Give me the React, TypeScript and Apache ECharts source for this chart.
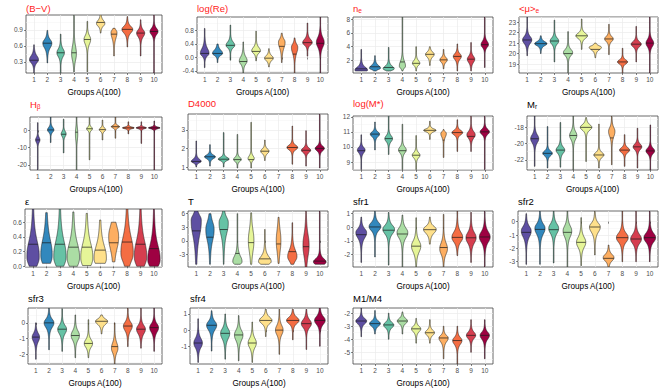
import React, { useEffect, useRef } from "react";
import * as echarts from "echarts";

// ---------------- data ----------------
const groups = [1, 2, 3, 4, 5, 6, 7, 8, 9, 10];
const groupColors = ["#5E4FA2", "#3288BD", "#66C2A5", "#ABDDA4", "#E6F598", "#FEE08B", "#FDAE61", "#F46D43", "#D53E4F", "#9E0142"];

// each violin: [lo, hi, median, densityPeak, spreadBelow, spreadAbove, halfWidth]
const bvViolins = [
  [0.08, 0.62, 0.33, 0.34, 0.12, 0.15, 0.3],
  [0.28, 0.89, 0.65, 0.65, 0.18, 0.14, 0.3],
  [0.08, 0.82, 0.47, 0.47, 0.15, 0.15, 0.25],
  [0.11, 1.2, 0.47, 0.45, 0.25, 0.3, 0.16],
  [0.11, 1.06, 0.72, 0.72, 0.18, 0.15, 0.22],
  [0.84, 1.2, 1.04, 1.02, 0.1, 0.12, 0.28],
  [0.41, 0.93, 0.82, 0.85, 0.22, 0.1, 0.2],
  [0.58, 1.15, 0.91, 0.91, 0.14, 0.12, 0.36],
  [0.41, 1.09, 0.84, 0.84, 0.14, 0.12, 0.27],
  [0.09, 1.2, 0.87, 0.87, 0.12, 0.12, 0.27],
];
const logReViolins = [
  [-0.3, 0.86, 0.12, 0.12, 0.15, 0.3, 0.3],
  [-0.15, 0.4, 0.12, 0.12, 0.12, 0.2, 0.35],
  [-0.08, 0.96, 0.36, 0.36, 0.15, 0.2, 0.3],
  [-0.46, 0.46, -0.12, -0.1, 0.2, 0.25, 0.27],
  [-0.1, 0.78, 0.18, 0.2, 0.15, 0.2, 0.3],
  [-0.28, 0.26, -0.02, -0.02, 0.15, 0.15, 0.3],
  [-0.15, 0.72, 0.33, 0.45, 0.35, 0.2, 0.23],
  [-0.46, 0.58, 0.1, 0.3, 0.35, 0.2, 0.22],
  [0.04, 1.02, 0.44, 0.44, 0.15, 0.2, 0.33],
  [-0.46, 1.2, 0.42, 0.45, 0.3, 0.3, 0.27],
];
const nEViolins = [
  [0.5, 3.6, 0.8, 0.6, 0.4, 0.9, 0.44],
  [0.5, 2.7, 1.1, 0.9, 0.4, 0.8, 0.36],
  [0.5, 3.9, 1.0, 0.8, 0.4, 0.8, 0.36],
  [0.5, 8.3, 1.8, 1.2, 0.6, 1.4, 0.2],
  [0.5, 4.0, 1.6, 1.6, 0.6, 0.8, 0.24],
  [1.3, 4.0, 2.9, 2.9, 0.8, 0.7, 0.28],
  [0.8, 3.6, 2.1, 2.1, 0.7, 0.7, 0.24],
  [0.5, 4.4, 2.6, 2.6, 0.9, 0.8, 0.26],
  [0.5, 4.6, 2.2, 2.2, 1.0, 0.9, 0.24],
  [1.0, 8.3, 4.3, 4.3, 0.8, 1.0, 0.24],
];
const muEViolins = [
  [19.8, 23.5, 21.3, 21.3, 0.7, 0.7, 0.3],
  [20.0, 21.7, 20.95, 20.95, 0.4, 0.4, 0.4],
  [19.2, 23.2, 21.2, 21.2, 0.6, 0.6, 0.28],
  [18.1, 22.1, 20.0, 20.1, 0.6, 0.6, 0.3],
  [20.4, 23.3, 21.7, 21.7, 0.5, 0.5, 0.38],
  [19.6, 21.0, 20.4, 20.6, 0.5, 0.3, 0.4],
  [19.9, 22.8, 21.4, 21.4, 0.5, 0.5, 0.28],
  [18.1, 20.5, 19.2, 19.2, 0.4, 0.4, 0.33],
  [19.2, 22.6, 20.9, 20.9, 0.5, 0.5, 0.33],
  [18.1, 23.5, 21.0, 21.0, 0.7, 0.7, 0.25],
];
const hBetaViolins = [
  [-23, 4.5, -5.5, -5.5, 3, 3, 0.15],
  [-7, 7.8, 0.3, 0.3, 2.5, 3, 0.22],
  [-13, 6.5, -2.2, -2.0, 3, 3, 0.17],
  [-23, 7.8, -1, -2, 8, 8, 0.08],
  [-17, 7.5, 1.0, 1.0, 2, 2, 0.2],
  [-5.5, 6.0, 0.5, 0.5, 2, 2, 0.22],
  [-4.5, 7.8, 2.2, 2.2, 1.5, 1.5, 0.28],
  [-2, 5, 1.5, 1.5, 1.0, 1.0, 0.4],
  [-7.5, 5, 1.5, 1.5, 1.0, 1.0, 0.35],
  [-23, 5.5, 1.5, 1.5, 1.0, 1.0, 0.4],
];
const d4000Violins = [
  [1.0, 2.4, 1.3, 1.3, 0.15, 0.25, 0.32],
  [1.05, 2.2, 1.55, 1.55, 0.2, 0.2, 0.35],
  [1.0, 2.85, 1.42, 1.42, 0.15, 0.2, 0.35],
  [0.95, 2.75, 1.4, 1.4, 0.2, 0.25, 0.25],
  [0.95, 3.4, 1.4, 1.45, 0.2, 0.3, 0.2],
  [1.35, 2.45, 1.85, 1.85, 0.25, 0.25, 0.27],
  null,
  [1.15, 3.2, 2.05, 2.05, 0.25, 0.25, 0.35],
  [1.05, 2.95, 1.9, 1.9, 0.25, 0.25, 0.3],
  [0.95, 3.9, 2.0, 2.0, 0.25, 0.25, 0.3],
];
const logMViolins = [
  [8.5, 10.8, 9.75, 9.8, 0.4, 0.35, 0.25],
  [9.8, 11.65, 10.85, 10.85, 0.35, 0.3, 0.3],
  [9.5, 12.1, 10.55, 10.55, 0.4, 0.4, 0.25],
  [8.5, 11.5, 9.75, 9.8, 0.4, 0.4, 0.25],
  [8.5, 10.75, 9.45, 9.45, 0.35, 0.35, 0.25],
  [10.5, 11.7, 11.1, 11.1, 0.2, 0.2, 0.4],
  [9.3, 11.15, 10.45, 10.9, 0.5, 0.2, 0.18],
  [9.7, 11.8, 10.95, 10.95, 0.3, 0.3, 0.35],
  [9.7, 12.1, 10.7, 10.8, 0.45, 0.45, 0.27],
  [8.5, 12.1, 11.0, 11.0, 0.35, 0.35, 0.3],
];
const mRViolins = [
  [-22.8, -16.6, -19.4, -19.4, 1.0, 1.0, 0.28],
  [-23.0, -17.9, -21.2, -21.2, 0.6, 0.6, 0.33],
  [-22.9, -17.4, -20.8, -20.8, 0.8, 0.8, 0.3],
  [-23.3, -16.6, -19.0, -19.0, 1.0, 1.0, 0.25],
  [-22.2, -16.8, -18.0, -18.0, 0.7, 0.7, 0.4],
  [-23.0, -17.6, -21.4, -21.4, 0.6, 0.6, 0.35],
  [-22.6, -16.6, -19.3, -18.5, 1.3, 1.0, 0.22],
  [-22.8, -18.9, -20.8, -20.8, 0.6, 0.6, 0.35],
  [-23.0, -18.1, -20.4, -20.4, 0.7, 0.7, 0.3],
  [-23.3, -17.7, -20.9, -20.9, 0.7, 0.7, 0.3],
];
const epsViolins = [
  [0.0, 0.78, 0.3, 0.13, 0.25, 0.45, 0.42],
  [0.04, 0.73, 0.32, 0.15, 0.25, 0.45, 0.38],
  [0.0, 0.78, 0.3, 0.13, 0.25, 0.45, 0.42],
  [0.0, 0.74, 0.26, 0.12, 0.25, 0.4, 0.42],
  [0.01, 0.72, 0.26, 0.12, 0.25, 0.4, 0.4],
  [0.04, 0.63, 0.22, 0.11, 0.2, 0.35, 0.42],
  [0.06, 0.6, 0.32, 0.4, 0.35, 0.3, 0.33],
  [0.0, 0.78, 0.33, 0.18, 0.25, 0.45, 0.42],
  [0.0, 0.78, 0.3, 0.13, 0.25, 0.45, 0.42],
  [0.0, 0.78, 0.24, 0.09, 0.2, 0.4, 0.45],
];
const tTypeViolins = [
  [-5.2, 6.6, 2.2, 4.5, 7, 2.5, 0.33],
  [-5.2, 6.0, 0.8, 2.5, 5, 3.5, 0.27],
  [-5.2, 6.6, 2.5, 4.0, 5, 2.5, 0.3],
  [-5.2, 6.0, -2.8, -4.6, 1.2, 2.5, 0.3],
  [-5.2, 6.2, -0.4, 0.0, 5, 5, 0.18],
  [-5.2, 2.5, -4.0, -4.6, 1.2, 2.2, 0.42],
  [-5.0, 5.2, -0.7, 0.0, 5, 5, 0.15],
  [-5.2, 4.0, -2.4, -3.5, 2, 3, 0.3],
  [-5.8, 6.6, -1.3, -1.0, 5, 5, 0.2],
  [-5.2, 6.6, -4.5, -4.7, 1.2, 1.5, 0.45],
];
const sfr1Violins = [
  [-2.6, 0.75, -0.55, -0.4, 0.8, 0.6, 0.35],
  [-2.2, 1.2, 0.02, 0.05, 0.6, 0.6, 0.38],
  [-2.8, 1.1, -0.22, -0.15, 0.7, 0.6, 0.38],
  [-2.94, 0.9, -0.5, -0.4, 0.8, 0.7, 0.35],
  [-2.94, 0.7, -1.4, -1.4, 0.9, 0.8, 0.3],
  [-1.25, 0.75, -0.18, -0.15, 0.6, 0.45, 0.45],
  [-2.94, 0.95, -1.5, -1.6, 0.8, 0.9, 0.25],
  [-2.1, 1.2, -0.75, -0.75, 0.7, 0.8, 0.35],
  [-2.6, 1.1, -0.78, -0.78, 0.8, 0.8, 0.33],
  [-2.94, 1.2, -0.72, -0.72, 0.8, 0.8, 0.35],
];
const sfr2Violins = [
  [-3.2, 0.6, -0.8, -0.7, 0.9, 0.7, 0.32],
  [-3.2, 0.8, -0.58, -0.5, 0.9, 0.7, 0.33],
  [-3.1, 0.8, -0.6, -0.5, 0.8, 0.7, 0.32],
  [-3.4, 0.8, -0.8, -0.7, 0.9, 0.8, 0.28],
  [-3.3, 0.3, -1.55, -1.55, 0.8, 0.8, 0.3],
  [-2.5, 0.8, -0.4, -0.4, 0.8, 0.6, 0.35],
  [-3.4, -1.75, -2.75, -2.7, 0.5, 0.5, 0.35],
  [-3.0, 0.8, -1.2, -1.2, 0.7, 0.7, 0.38],
  [-3.0, 0.8, -1.3, -1.3, 0.7, 0.7, 0.35],
  [-3.0, 0.8, -1.2, -1.2, 0.7, 0.7, 0.38],
];
const sfr3Violins = [
  [-2.3, 0.0, -0.9, -0.9, 0.6, 0.5, 0.25],
  [-1.7, 0.94, 0.0, 0.0, 0.6, 0.5, 0.33],
  [-1.8, 0.9, -0.4, -0.4, 0.6, 0.5, 0.3],
  [-2.2, 0.5, -0.8, -0.8, 0.6, 0.6, 0.28],
  [-2.2, 0.2, -1.3, -1.3, 0.5, 0.5, 0.28],
  [-0.7, 0.5, 0.1, 0.1, 0.4, 0.3, 0.45],
  [-2.6, 0.0, -1.5, -1.6, 0.6, 0.7, 0.22],
  [-1.5, 0.94, -0.2, -0.2, 0.6, 0.5, 0.3],
  [-1.6, 0.94, -0.4, -0.4, 0.6, 0.5, 0.3],
  [-1.8, 0.94, -0.3, -0.3, 0.6, 0.5, 0.3],
];
const sfr4Violins = [
  [-2.0, 0.7, -0.8, -0.8, 0.6, 0.6, 0.28],
  [-1.3, 1.2, 0.3, 0.3, 0.6, 0.5, 0.33],
  [-1.8, 1.0, -0.2, -0.2, 0.7, 0.6, 0.3],
  [-1.9, 0.9, -0.3, -0.3, 0.7, 0.6, 0.28],
  [-2.0, 0.5, -0.8, -0.8, 0.6, 0.6, 0.27],
  [-0.4, 1.3, 0.6, 0.6, 0.4, 0.4, 0.42],
  [-1.5, 1.3, 0.0, 0.0, 0.6, 0.6, 0.25],
  [-0.6, 1.3, 0.6, 0.6, 0.4, 0.4, 0.42],
  [-1.2, 1.3, 0.4, 0.4, 0.5, 0.5, 0.33],
  [-1.0, 1.37, 0.6, 0.6, 0.5, 0.5, 0.35],
];
const m1m4Violins = [
  [-3.8, -1.6, -2.6, -2.6, 0.45, 0.4, 0.35],
  [-3.6, -1.8, -2.8, -2.8, 0.4, 0.4, 0.35],
  [-4.0, -2.0, -2.9, -2.9, 0.45, 0.4, 0.33],
  [-3.6, -1.9, -2.6, -2.6, 0.4, 0.4, 0.33],
  [-4.3, -2.4, -3.2, -3.2, 0.45, 0.4, 0.3],
  [-4.3, -2.5, -3.5, -3.5, 0.4, 0.4, 0.3],
  [-5.5, -3.0, -3.9, -3.9, 0.6, 0.4, 0.3],
  [-5.9, -3.0, -4.1, -4.1, 0.6, 0.5, 0.3],
  [-5.0, -2.5, -3.7, -3.7, 0.5, 0.5, 0.3],
  [-5.5, -2.5, -3.7, -3.7, 0.6, 0.5, 0.3],
];

const panelViolins = [
  bvViolins, logReViolins, nEViolins, muEViolins,
  hBetaViolins, d4000Violins, logMViolins, mRViolins,
  epsViolins, tTypeViolins, sfr1Violins, sfr2Violins,
  sfr3Violins, sfr4Violins, m1m4Violins,
];

const panelTitles = [
  "(B−V)", "log(Re)", "{m|n}{s|e}", "{m|<μ>}{s|e}",
  "{m|H}{s|β}", "D4000", "log(M*)", "{m|M}{s|r}",
  "ε", "T", "sfr1", "sfr2",
  "sfr3", "sfr4", "M1/M4",
];
const titleIsRed = [true, true, true, true, true, true, true, false, false, false, false, false, false, false, false];

const yTickValues = [
  [0.3, 0.6, 0.9], [-0.4, 0, 0.4, 0.8], [2, 4, 6, 8], [19, 20, 21, 22, 23],
  [-20, -10, 0], [1, 2, 3], [9, 10, 11, 12], [-22, -20, -18],
  [0, 0.2, 0.4, 0.6], [-3, 0, 3, 6], [-2, -1, 0, 1], [-3, -2, -1, 0],
  [-2, -1, 0], [-1, 0, 1], [-5, -4, -3, -2],
];
const yTickLabels = [
  ["0.3", "0.6", "0.9"], ["-0.4", "0.0", "0.4", "0.8"], ["2", "4", "6", "8"], ["19", "20", "21", "22", "23"],
  ["-20", "-10", "0"], ["1", "2", "3"], ["9", "10", "11", "12"], ["-22", "-20", "-18"],
  ["0.0", "0.2", "0.4", "0.6"], ["-3", "0", "3", "6"], ["-2", "-1", "0", "1"], ["-3", "-2", "-1", "0"],
  ["-2", "-1", "0"], ["-1", "0", "1"], ["-5", "-4", "-3", "-2"],
];
const yRanges = [
  [0.09, 1.18], [-0.46, 1.2], [0.2, 8.3], [18.14, 23.5],
  [-22.9, 7.8], [0.84, 3.85], [8.47, 12.05], [-23.25, -16.6],
  [-0.01, 0.78], [-5.8, 6.6], [-2.94, 1.2], [-3.4, 0.8],
  [-2.6, 0.94], [-2.1, 1.37], [-5.9, -1.6],
];
const xAxisTitle = "Groups A(100)";

// ---------------- layout (px) ----------------
const plotBoxes = [
  [26, 15, 162, 73], [197, 17, 328, 73], [353, 17, 493, 73], [519, 17, 658, 73],
  [30, 117, 162, 170], [188, 114, 328, 170], [353, 116, 493, 170], [527, 116, 658, 170],
  [25, 209, 162, 267], [188, 211, 328, 267], [353, 211, 493, 267], [518, 211, 658, 267],
  [28, 308, 162, 365], [190, 308, 328, 365], [353, 308, 493, 365],
];
const titleCenterY = [8, 8, 8, 8, 104, 103, 103, 104, 201, 201, 201, 201, 298, 298, 298];

const FONT = "Liberation Sans, Arial, Helvetica, sans-serif";
const WIDTH_SCALE = 1.12;

function shapeFactor(y: number, peak: number, sD: number, sU: number) {
  const d = y - peak;
  const s = d < 0 ? sD : sU;
  const u = Math.abs(d) / s;
  return 1 / (1 + Math.pow(1.6 * u, 2.5));
}

function renderViolin(params: any, api: any) {
  const gx = api.value(0);
  const lo = api.value(1);
  const hi = api.value(2);
  const med = api.value(3);
  const peak = api.value(4);
  const sD = api.value(5);
  const sU = api.value(6);
  const w = api.value(7);
  const slot = api.size([1, 0])[0];
  const hw = (y: number) => Math.max(Math.min(w * WIDTH_SCALE, 0.46) * slot * shapeFactor(y, peak, sD, sU), 0.3);
  const N = 90;
  const right: number[][] = [];
  const left: number[][] = [];
  for (let i = 0; i <= N; i++) {
    const y = lo + ((hi - lo) * i) / N;
    const c = api.coord([gx, y]);
    const h = hw(y);
    right.push([c[0] + h, c[1]]);
    left.push([c[0] - h, c[1]]);
  }
  const pts = right.concat(left.reverse());
  const cm = api.coord([gx, med]);
  const hm = hw(med);
  const color = groupColors[Math.round(gx) - 1];
  return {
    type: "group",
    children: [
      {
        type: "polygon",
        shape: { points: pts },
        style: { fill: color, stroke: "#1a1a1a", lineWidth: 0.55 },
      },
      {
        type: "line",
        shape: { x1: cm[0] - hm, y1: cm[1], x2: cm[0] + hm, y2: cm[1] },
        style: { stroke: "#1a1a1a", lineWidth: 0.7 },
      },
    ],
  };
}

function minorValues(ticks: number[], range: number[]) {
  const step = ticks[1] - ticks[0];
  const out: number[] = [];
  for (let v = ticks[0] - step / 2; v <= range[1] + 1e-9; v += step) {
    if (v >= range[0] - 1e-9) out.push(Math.round(v * 1e6) / 1e6);
  }
  return out;
}

function buildOption() {
  const grid: any[] = [];
  const xAxis: any[] = [];
  const yAxis: any[] = [];
  const series: any[] = [];
  const graphic: any[] = [];

  panelViolins.forEach((violins, i) => {
    const [l, t, r, b] = plotBoxes[i];
    grid.push({
      left: l, top: t, width: r - l, height: b - t,
      show: true, borderColor: "#444", borderWidth: 0.8, backgroundColor: "#fff",
    });
    xAxis.push({
      type: "value", gridIndex: i, min: 0.4, max: 10.6,
      axisLine: { show: false },
      axisTick: { show: true, length: 2, customValues: groups, lineStyle: { color: "#333", width: 0.6 } },
      axisLabel: {
        customValues: groups, fontSize: 6.5, color: "#4D4D4D", margin: 3, fontFamily: FONT,
        formatter: (v: number) => String(v),
      },
      splitLine: { show: true, lineStyle: { color: "#EBEBEB", width: 0.7 } },
      name: xAxisTitle, nameLocation: "middle", nameGap: 15,
      nameTextStyle: { fontSize: 8.2, color: "#000", fontFamily: FONT },
    });
    const ticks = yTickValues[i];
    const labels = yTickLabels[i];
    const range = yRanges[i];
    yAxis.push({
      type: "value", gridIndex: i, min: range[0], max: range[1],
      axisLine: { show: false },
      axisTick: { show: true, length: 2, customValues: ticks, lineStyle: { color: "#333", width: 0.6 } },
      axisLabel: {
        customValues: ticks, fontSize: 6.5, color: "#4D4D4D", margin: 3, fontFamily: FONT,
        formatter: (v: number) => {
          const k = ticks.findIndex((tv) => Math.abs(tv - v) < 1e-9);
          return k >= 0 ? labels[k] : "";
        },
      },
      splitLine: { show: true, lineStyle: { color: "#EBEBEB", width: 0.7 } },
    });
    yAxis.push({
      type: "value", gridIndex: i, min: range[0], max: range[1], position: "left",
      axisLine: { show: false },
      axisTick: { show: false, customValues: minorValues(ticks, range) },
      axisLabel: { show: false },
      splitLine: { show: true, lineStyle: { color: "#F2F2F2", width: 0.5 } },
    });
    const data = violins
      .map((v, k) => (v ? [groups[k], ...v] : null))
      .filter((d) => d !== null);
    series.push({
      type: "custom", xAxisIndex: i, yAxisIndex: yAxis.length - 2,
      clip: true, renderItem: renderViolin, data,
      encode: { x: 0, y: [1, 2] },
      z: 5,
    });
    graphic.push({
      type: "text", x: l, y: titleCenterY[i],
      style: {
        text: panelTitles[i], fill: titleIsRed[i] ? "#FF1A1A" : "#000",
        fontSize: 9.5, fontFamily: FONT, verticalAlign: "middle", align: "left",
        rich: {
          m: { fontSize: 9.5, fontFamily: FONT, fill: titleIsRed[i] ? "#FF1A1A" : "#000" },
          s: { fontSize: 6.5, fontFamily: FONT, fill: titleIsRed[i] ? "#FF1A1A" : "#000", padding: [5, 0, 0, 0] },
        },
      },
    });
  });

  return {
    animation: false,
    backgroundColor: "#fff",
    grid, xAxis, yAxis, series, graphic,
  };
}

export default function App() {
  const ref = useRef<HTMLDivElement>(null);
  useEffect(() => {
    if (!ref.current) return;
    const chart = echarts.init(ref.current, undefined, { renderer: "svg" });
    chart.setOption(buildOption() as any);
    return () => chart.dispose();
  }, []);
  return (
    <div
      ref={ref}
      style={{ position: "absolute", left: 0, top: 0, width: 664, height: 388, background: "#fff" }}
    />
  );
}
